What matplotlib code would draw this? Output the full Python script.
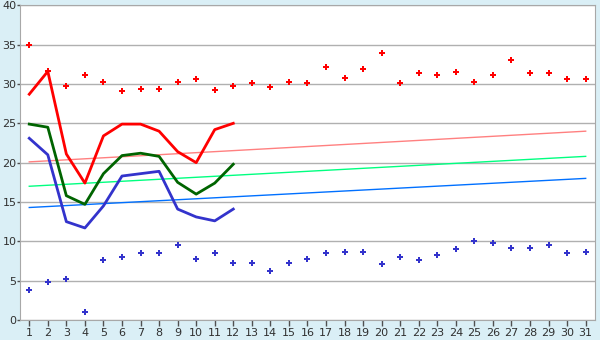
import matplotlib.pyplot as plt

days = list(range(1, 32))

# daily max / min (points)
max_pts = [35.0, 31.6, 29.8, 31.1, 30.2, 29.1, 29.3, 29.3, 30.3, 30.6,
           29.2, 29.7, 30.1, 29.6, 30.3, 30.1, 32.2, 30.7, 31.9, 34.0,
           30.1, 31.4, 31.1, 31.5, 30.2, 31.1, 33.0, 31.4, 31.4, 30.6, 30.6]
min_pts = [3.8, 4.8, 5.2, 1.0, 7.6, 8.0, 8.5, 8.5, 9.5, 7.8,
           8.5, 7.3, 7.2, 6.2, 7.2, 7.7, 8.5, 8.6, 8.7, 7.1,
           8.0, 7.6, 8.2, 9.0, 10.0, 9.8, 9.2, 9.2, 9.5, 8.5, 8.7]

# current month lines (days 1-12)
line_days = list(range(1, 13))
red_line = [28.7, 31.6, 21.1, 17.4, 23.4, 24.9, 24.9, 24.0, 21.4, 20.0, 24.2, 25.0]
green_line = [24.9, 24.5, 15.8, 14.7, 18.6, 20.9, 21.2, 20.8, 17.5, 16.0, 17.4, 19.8]
blue_line = [23.1, 21.0, 12.5, 11.7, 14.5, 18.3, 18.6, 18.9, 14.1, 13.1, 12.6, 14.1]

# long-term normals, start and end of month
norm_days = [1, 31]
norm_max = [20.1, 24.0]
norm_mean = [17.0, 20.8]
norm_min = [14.3, 18.0]

bg = '#daeff6'
fig = plt.figure(figsize=(6, 3.4), dpi=100, facecolor=bg)
ax = fig.add_axes([0.0333, 0.0588, 0.9583, 0.9256])
ax.set_facecolor('white')

ax.plot(norm_days, norm_max, color='#ff8080', lw=1)
ax.plot(norm_days, norm_mean, color='#00ff80', lw=1)
ax.plot(norm_days, norm_min, color='#0070ff', lw=1)

ax.plot(line_days, red_line, color='#ff0000', lw=2)
ax.plot(line_days, green_line, color='#006400', lw=2)
ax.plot(line_days, blue_line, color='#3333cc', lw=2)

ax.plot(days, max_pts, ls='none', marker='P', ms=5, color='#ff0000', mew=0)
ax.plot(days, min_pts, ls='none', marker='P', ms=5, color='#3333cc', mew=0)

ax.set_xlim(0.5, 31.5)
ax.set_ylim(0, 40)
ax.set_xticks(days)
ax.set_yticks(range(0, 41, 5))
ax.yaxis.grid(True, color='#b0b0b0', lw=1)
ax.set_axisbelow(True)
for s in ax.spines.values():
    s.set_color('#a8a8a8')
ax.tick_params(labelsize=8, labelcolor='#303030', color='#505050', width=1)
ax.tick_params(axis='y', length=2, pad=0.5)
ax.tick_params(axis='x', length=4, pad=1.5)

fig.savefig('out.png', dpi=100, facecolor=bg)
